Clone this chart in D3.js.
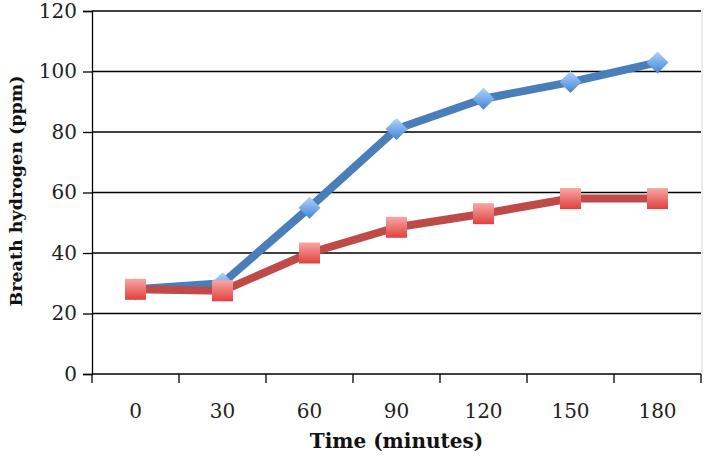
<!DOCTYPE html>
<html>
<head>
<meta charset="utf-8">
<script src="https://cdn.jsdelivr.net/npm/d3@7"></script>
<style>
  body { margin: 0; background: #fff; }
  svg text { font-family: "DejaVu Serif", serif; }
</style>
</head>
<body>
<script>
(function () {

  let times   = ['0', '30', '60', '90', '120', '150', '180'];
  let blue    = [28, 30, 55, 81, 91, 96.5, 103];
  let red     = [28, 27.5, 40, 48.5, 53, 58, 58];
  let yTicks  = [0, 20, 40, 60, 80, 100, 120];

  let totalWidth  = 709;
  let totalHeight = 462;
  let margin      = { top: 11, right: 8, bottom: 88, left: 92 };
  let width       = totalWidth - (margin.left + margin.right);
  let height      = totalHeight - (margin.top + margin.bottom);

  let svg = d3.select('body').append('svg')
      .attr('width', totalWidth)
      .attr('height', totalHeight);

  let defs = svg.append('defs');

  let gBlue = defs.append('linearGradient')
      .attr('id', 'gradBlue')
      .attr('x1', 0).attr('y1', 0).attr('x2', 0).attr('y2', 1);
  gBlue.append('stop').attr('offset', '0%').attr('stop-color', '#b3d4f7');
  gBlue.append('stop').attr('offset', '100%').attr('stop-color', '#3f84d8');

  let gRed = defs.append('linearGradient')
      .attr('id', 'gradRed')
      .attr('x1', 0).attr('y1', 0).attr('x2', 0).attr('y2', 1);
  gRed.append('stop').attr('offset', '0%').attr('stop-color', '#f7a7a5');
  gRed.append('stop').attr('offset', '100%').attr('stop-color', '#e0413d');

  let g = svg.append('g')
      .attr('transform', 'translate(' + margin.left + ',' + margin.top + ')');

  let xScale = d3.scaleBand().domain(times).range([0, width]);
  let yScale = d3.scaleLinear().domain([0, 120]).range([height, 0]);

  // light frame on the right
  g.append('line')
    .attr('x1', width + 1).attr('x2', width + 1)
    .attr('y1', 0).attr('y2', height)
    .attr('stroke', '#d9d9d9')
    .attr('stroke-width', 1);

  // grid lines
  g.selectAll('line.grid').data(yTicks.filter(function (d) { return d > 0; }))
    .enter().append('line')
    .attr('class', 'grid')
    .attr('x1', 0).attr('x2', width)
    .attr('y1', function (d) { return yScale(d); })
    .attr('y2', function (d) { return yScale(d); })
    .attr('stroke', '#000')
    .attr('stroke-width', 1.3);

  // y axis
  let yAxis = d3.axisLeft(yScale).tickValues(yTicks).tickSize(9).tickPadding(6);
  let ya = g.append('g').call(yAxis);
  ya.select('.domain').attr('stroke-width', 1.3);
  ya.selectAll('.tick line').attr('stroke-width', 1.3);
  ya.selectAll('text').attr('font-size', 20).attr('font-family', '"DejaVu Serif", serif').attr('fill', '#222');

  // x axis, ticks between categories
  let xa = g.append('g').attr('transform', 'translate(0,' + height + ')');
  xa.append('line')
    .attr('x1', 0).attr('x2', width)
    .attr('stroke', '#000').attr('stroke-width', 1.3);
  let bounds = d3.range(times.length + 1).map(function (i) { return i * xScale.step(); });
  xa.selectAll('line.tick').data(bounds)
    .enter().append('line')
    .attr('class', 'tick')
    .attr('x1', function (d) { return d; })
    .attr('x2', function (d) { return d; })
    .attr('y1', 0).attr('y2', 9)
    .attr('stroke', '#000').attr('stroke-width', 1.3);
  xa.selectAll('text').data(times)
    .enter().append('text')
    .attr('x', function (d) { return xScale(d) + xScale.bandwidth() / 2; })
    .attr('y', 44)
    .attr('text-anchor', 'middle')
    .attr('font-size', 20)
    .attr('fill', '#222')
    .text(function (d) { return d; });

  let cx = function (d, i) { return xScale(times[i]) + xScale.bandwidth() / 2; };
  let line = d3.line()
      .x(cx)
      .y(function (d) { return yScale(d); });

  g.append('path')
    .datum(blue)
    .attr('d', line)
    .attr('fill', 'none')
    .attr('stroke', '#4a7ebb')
    .attr('stroke-width', 8)
    .attr('stroke-linejoin', 'round');

  g.append('path')
    .datum(red)
    .attr('d', line)
    .attr('fill', 'none')
    .attr('stroke', '#be4b48')
    .attr('stroke-width', 8)
    .attr('stroke-linejoin', 'round');

  // blue diamonds
  g.selectAll('path.diamond').data(blue)
    .enter().append('path')
    .attr('class', 'diamond')
    .attr('d', 'M0,-11L11,0L0,11L-11,0Z')
    .attr('transform', function (d, i) { return 'translate(' + cx(d, i) + ',' + yScale(d) + ')'; })
    .attr('fill', 'url(#gradBlue)');

  // red squares
  g.selectAll('rect.square').data(red)
    .enter().append('rect')
    .attr('class', 'square')
    .attr('x', function (d, i) { return cx(d, i) - 10.5; })
    .attr('y', function (d) { return yScale(d) - 10.5; })
    .attr('width', 21)
    .attr('height', 21)
    .attr('fill', 'url(#gradRed)');

  // axis titles
  svg.append('text')
    .attr('x', margin.left + width / 2)
    .attr('y', 448)
    .attr('text-anchor', 'middle')
    .attr('font-size', 20)
    .attr('font-weight', 'bold')
    .attr('fill', '#111')
    .text('Time (minutes)');

  svg.append('text')
    .attr('transform', 'translate(22,191) rotate(-90)')
    .attr('text-anchor', 'middle')
    .attr('font-size', 17.5)
    .attr('font-weight', 'bold')
    .attr('fill', '#111')
    .text('Breath hydrogen (ppm)');

})();
</script>
</body>
</html>
